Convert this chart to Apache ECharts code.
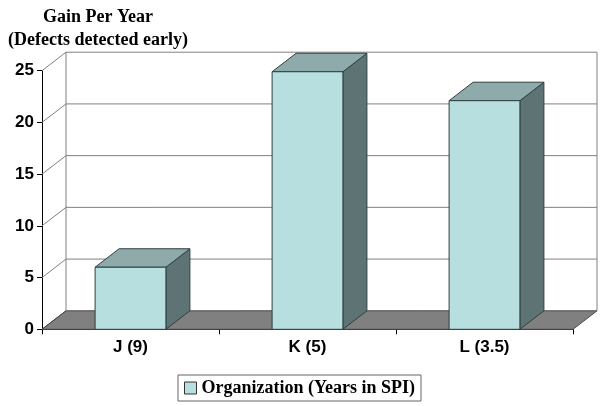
<!DOCTYPE html>
<html>
<head>
<meta charset="utf-8">
<title>Gain Per Year</title>
<script src="https://cdn.jsdelivr.net/npm/echarts@6/dist/echarts.min.js"></script>
<style>
  html, body { margin: 0; padding: 0; background: #fff; }
  #chart { width: 603px; height: 406px; }
</style>
</head>
<body>
<div id="chart"></div>
<script>
  // 数据
  const categories = ['J (9)', 'K (5)', 'L (3.5)']
  const gains = [6, 24.9, 22.1]
  const yTicks = [0, 5, 10, 15, 20, 25]
  const legendName = 'Organization (Years in SPI)'

  // 3D 深度偏移
  const DX = 24
  const DY = -18.5

  const myChart = echarts.init(document.getElementById('chart'))

  // 背景墙 + 地板
  function renderFrame(params, api) {
    const cs = params.coordSys
    const v = api.value(0)
    const y = api.coord([0, v])[1]
    const left = cs.x
    const right = cs.x + cs.width
    const lineStyle = { stroke: '#808080', lineWidth: 1 }
    const children = []
    if (v === 0) {
      children.push({
        type: 'polygon',
        shape: { points: [[left, y], [right, y], [right + DX, y + DY], [left + DX, y + DY]] },
        style: { fill: '#808080', stroke: '#4a4a4a', lineWidth: 1 }
      })
      // 背景墙左右两条竖线
      children.push({
        type: 'line',
        shape: { x1: left + DX, y1: y + DY, x2: left + DX, y2: cs.y + DY },
        style: lineStyle
      })
      children.push({
        type: 'line',
        shape: { x1: right + DX, y1: y + DY, x2: right + DX, y2: cs.y + DY },
        style: lineStyle
      })
    } else {
      children.push({
        type: 'line',
        shape: { x1: left + DX, y1: y + DY, x2: right + DX, y2: y + DY },
        style: lineStyle
      })
    }
    // 左侧墙斜线
    children.push({
      type: 'line',
      shape: { x1: left, y1: y, x2: left + DX, y2: y + DY },
      style: { stroke: v === 0 ? '#4a4a4a' : '#808080', lineWidth: 1 }
    })
    return { type: 'group', children: children }
  }

  // 立体柱子
  function renderBar(params, api) {
    const i = api.value(0)
    const base = api.coord([i, 0])
    const top = api.coord([i, api.value(1)])
    const w = api.size([1, 0])[0] * 0.4
    const x0 = base[0] - w / 2
    const x1 = base[0] + w / 2
    const y0 = base[1]
    const y1 = top[1]
    const edge = '#2f3f3f'
    return {
      type: 'group',
      children: [
        {
          type: 'polygon',
          shape: { points: [[x1, y1], [x1 + DX, y1 + DY], [x1 + DX, y0 + DY], [x1, y0]] },
          style: { fill: '#5e7474', stroke: edge, lineWidth: 1 }
        },
        {
          type: 'polygon',
          shape: { points: [[x0, y1], [x1, y1], [x1 + DX, y1 + DY], [x0 + DX, y1 + DY]] },
          style: { fill: '#8eaaaa', stroke: edge, lineWidth: 1 }
        },
        {
          type: 'rect',
          shape: { x: x0, y: y1, width: w, height: y0 - y1 },
          style: { fill: '#b8dfe0', stroke: edge, lineWidth: 1 }
        }
      ]
    }
  }

  const option = {
    animation: false,
    backgroundColor: '#fff',
    title: {
      text: 'Gain Per Year\n(Defects detected early)',
      left: 93,
      top: 1,
      textAlign: 'center',
      textStyle: {
        fontFamily: 'Liberation Serif',
        fontWeight: 'bold',
        fontSize: 18,
        lineHeight: 23,
        color: '#000'
      }
    },
    legend: {
      data: [legendName],
      left: 178,
      top: 375,
      icon: 'rect',
      itemWidth: 12,
      itemHeight: 12,
      padding: [4, 6, 4, 6],
      borderColor: '#666',
      borderWidth: 1,
      itemStyle: { color: '#b8dfe0', borderColor: '#333', borderWidth: 1 },
      textStyle: {
        fontFamily: 'Liberation Serif',
        fontWeight: 'bold',
        fontSize: 18,
        color: '#000'
      }
    },
    grid: {
      left: 42,
      right: 30,
      top: 70.7,
      bottom: 76.7
    },
    xAxis: {
      type: 'category',
      data: categories,
      axisLine: { lineStyle: { color: '#000', width: 1 } },
      axisTick: { show: true, length: 5, interval: 0, lineStyle: { color: '#000' } },
      axisLabel: {
        margin: 10,
        fontFamily: 'Liberation Sans',
        fontWeight: 'bold',
        fontSize: 17,
        color: '#000'
      },
      splitLine: { show: false }
    },
    yAxis: {
      type: 'value',
      min: 0,
      max: 25,
      interval: 5,
      axisLine: { show: true, lineStyle: { color: '#000', width: 1 } },
      axisTick: { show: true, length: 5, lineStyle: { color: '#000' } },
      axisLabel: {
        margin: 8,
        fontFamily: 'Liberation Sans',
        fontWeight: 'bold',
        fontSize: 17,
        color: '#000'
      },
      splitLine: { show: false }
    },
    series: [
      {
        type: 'custom',
        renderItem: renderFrame,
        data: yTicks.map(v => [v]),
        encode: { y: 0 },
        silent: true,
        z: 1
      },
      {
        name: legendName,
        type: 'custom',
        renderItem: renderBar,
        itemStyle: { color: '#b8dfe0' },
        data: gains.map((v, i) => [i, v]),
        encode: { x: 0, y: 1 },
        z: 3
      }
    ]
  }

  myChart.setOption(option)
</script>
</body>
</html>
